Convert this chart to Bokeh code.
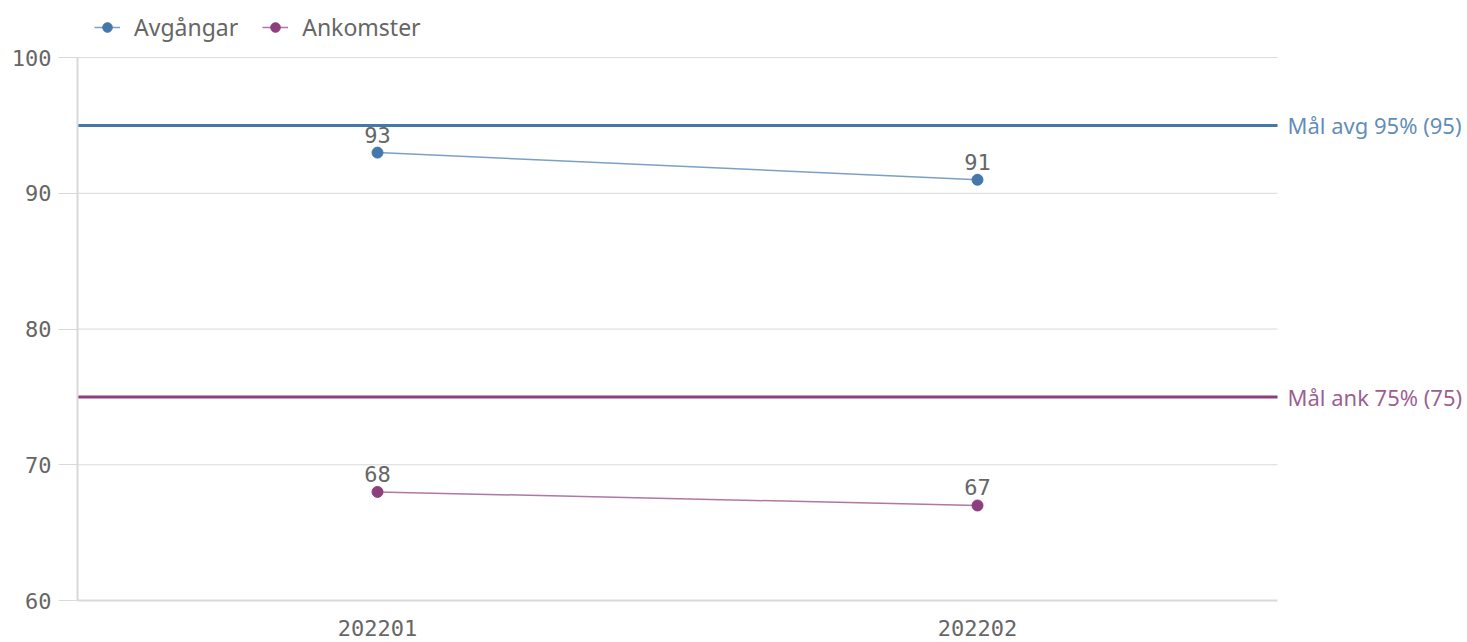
from bokeh.plotting import figure
from bokeh.models import (Range1d, Legend, LegendItem, ColumnDataSource, FixedTicker,
                          CustomJSTickFormatter)
from bokeh.core.properties import value
from bokeh.embed import file_html
from bokeh.resources import INLINE

periods = ["202201", "202202"]
avgangar = [93, 91]
ankomster = [68, 67]
series_names = ["Avgångar", "Ankomster"]
targets = [95, 75]
target_labels = ["Mål avg 95% (95)", "Mål ank 75% (75)"]
y_ticks = [60, 70, 80, 90, 100]

blue = "#4477aa"
purple = "#8c3f7c"
gray_text = "#666666"
grid = "#d9d9d9"

W, H = 1467, 642
LEFT, BOTTOM = 77, 42
FRAME_W = W - LEFT
FRAME_H = H - BOTTOM
n = len(periods)
xs = [i + 0.5 for i in range(n)]
px_per_x = 1200 / n
px_per_y = (599 - 57) / (y_ticks[-1] - y_ticks[0])
x_end = FRAME_W / px_per_x
y_end = y_ticks[-1] + 57 / px_per_y

p = figure(x_range=Range1d(0, x_end), y_range=Range1d(y_ticks[0], y_end),
           width=W, height=H, output_backend="svg", toolbar_location=None,
           min_border_left=LEFT, min_border_right=0, min_border_bottom=BOTTOM, min_border_top=0)
p.outline_line_color = None
p.background_fill_color = "white"
p.xgrid.grid_line_color = None
p.ygrid.grid_line_color = None

# y axis
p.yaxis.ticker = FixedTicker(ticks=y_ticks)
p.yaxis.bounds = (y_ticks[0], y_ticks[-1])
p.yaxis.axis_line_color = grid
p.yaxis.axis_line_width = 2
p.yaxis.major_tick_line_color = grid
p.yaxis.major_tick_out = 19
p.yaxis.major_tick_in = 0
p.yaxis.minor_tick_line_color = None
p.yaxis.major_label_text_font = "DejaVu Sans Mono"
p.yaxis.major_label_text_font_size = "22px"
p.yaxis.major_label_text_color = gray_text
p.yaxis.major_label_standoff = 7

# x axis
p.xaxis.ticker = FixedTicker(ticks=xs)
p.xaxis.formatter = CustomJSTickFormatter(args=dict(labels=periods),
                                          code="return labels[Math.round(tick - 0.5)];")
p.xaxis.bounds = (0, n)
p.xaxis.axis_line_color = grid
p.xaxis.axis_line_width = 2
p.xaxis.major_tick_line_color = None
p.xaxis.minor_tick_line_color = None
p.xaxis.major_label_text_font = "DejaVu Sans Mono"
p.xaxis.major_label_text_font_size = "22px"
p.xaxis.major_label_text_color = gray_text
p.xaxis.major_label_standoff = 13

# horizontal grid lines within the plot area
grid_y = y_ticks[1:]
p.segment(x0=[0] * len(grid_y), x1=[n] * len(grid_y), y0=grid_y, y1=grid_y,
          line_color=grid, line_width=1)

# target lines + labels
p.segment(x0=[0, 0], x1=[n, n], y0=targets, y1=targets,
          line_color=[blue, purple], line_width=3)
p.text(x=[n, n], y=targets, text=target_labels, x_offset=10, text_baseline="middle",
       text_color=[blue, purple], text_alpha=0.85, text_font=value("Noto Sans"),
       text_font_size="22px")

items = []
for name, vals, col in zip(series_names, [avgangar, ankomster], [blue, purple]):
    src = ColumnDataSource(dict(x=xs, y=vals, t=[str(v) for v in vals]))
    l = p.line("x", "y", source=src, line_color=col, line_width=1.5, line_alpha=0.7)
    s = p.scatter("x", "y", source=src, size=11, fill_color=col, line_color=col)
    p.text("x", "y", text="t", source=src, text_align="center", text_baseline="bottom",
           y_offset=-10, text_font=value("DejaVu Sans Mono"), text_font_size="22px",
           text_color=gray_text)
    items.append(LegendItem(label=name, renderers=[l, s]))

legend = Legend(items=items, orientation="horizontal", location=(17, FRAME_H - 43),
                label_text_font="Noto Sans", label_text_font_size="23px",
                label_text_color=gray_text, border_line_color=None,
                background_fill_alpha=0,
                glyph_width=26, glyph_height=24, label_standoff=14, spacing=24,
                padding=4, margin=0)
p.add_layout(legend, "center")

open("out.html", "w").write(file_html(p, INLINE))
